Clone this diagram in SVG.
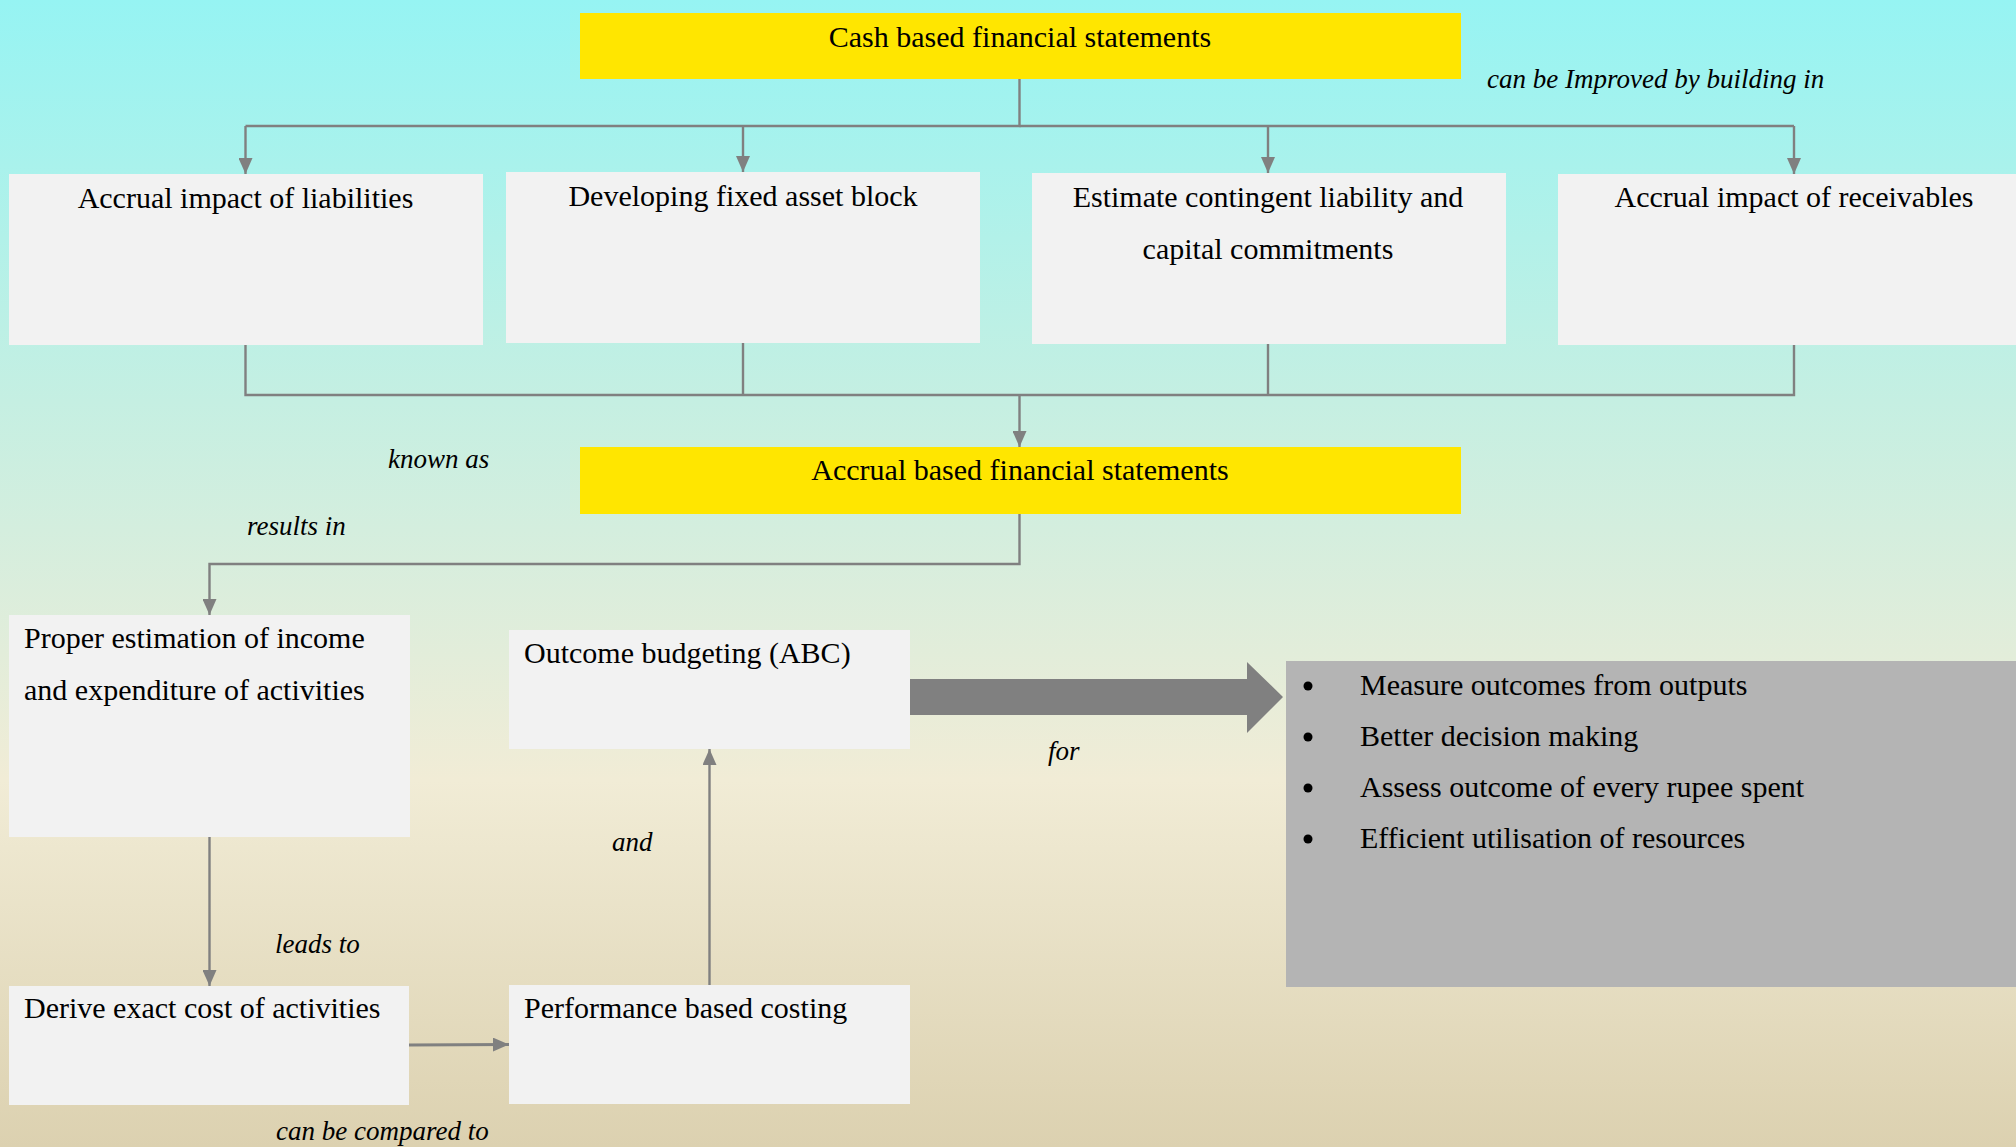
<svg xmlns="http://www.w3.org/2000/svg" width="2016" height="1147" viewBox="0 0 2016 1147">
<defs>
<linearGradient id="bg" x1="0" y1="0" x2="0" y2="1">
<stop offset="0" stop-color="#96F4F3"/>
<stop offset="0.35" stop-color="#C5EFE2"/>
<stop offset="0.68" stop-color="#F1ECD6"/>
<stop offset="1" stop-color="#DCD1B0"/>
</linearGradient>
<marker id="ah" markerUnits="userSpaceOnUse" markerWidth="16" markerHeight="14" refX="16" refY="7" orient="auto">
<path d="M0,0 L16,7 L0,14 z" fill="#808080"/>
</marker>
<style>
.box{fill:#F2F2F2}
.yel{fill:#FFE600}
.gry{fill:#B4B4B4}
.t{font-family:"Liberation Serif","Times New Roman",serif;font-size:30px;fill:#000}
.c{text-anchor:middle}
.i{font-family:"Liberation Serif","Times New Roman",serif;font-size:27px;font-style:italic;fill:#000}
.ln{fill:none;stroke:#808080;stroke-width:2.4}
.ar{marker-end:url(#ah)}
</style>
</defs>
<rect x="0" y="0" width="2016" height="1147" fill="url(#bg)"/>

<g id="connectors">
<polyline class="ln" points="1019.5,79 1019.5,126 245.5,126"/>
<polyline class="ln" points="1019.5,126 1794,126"/>
<line class="ln ar" x1="245.5" y1="126" x2="245.5" y2="174"/>
<line class="ln ar" x1="743" y1="126" x2="743" y2="172"/>
<line class="ln ar" x1="1268" y1="126" x2="1268" y2="173"/>
<line class="ln ar" x1="1794" y1="126" x2="1794" y2="174"/>
<polyline class="ln" points="245.5,345 245.5,395 1794,395 1794,345"/>
<line class="ln" x1="743" y1="343" x2="743" y2="395"/>
<line class="ln" x1="1268" y1="344" x2="1268" y2="395"/>
<line class="ln ar" x1="1019.5" y1="395" x2="1019.5" y2="447"/>
<polyline class="ln ar" points="1019.5,514 1019.5,564 209.5,564 209.5,615"/>
<line class="ln ar" x1="209.5" y1="837" x2="209.5" y2="986"/>
<line class="ln ar" x1="709.5" y1="985" x2="709.5" y2="749"/>
<line class="ln ar" x1="409" y1="1045" x2="509" y2="1044.5" style="stroke-width:3"/>
<polygon points="907,679 1247,679 1247,662 1283,697 1247,733 1247,715 907,715" fill="#808080"/>
</g>

<g id="n-cash">
<rect class="yel" x="580" y="13" width="881" height="66"/>
<text class="t c" x="1020" y="47">Cash based financial statements</text>
</g>
<g id="lbl-improved"><text class="i" x="1487" y="88">can be Improved by building in</text></g>

<g id="n-liab">
<rect class="box" x="9" y="174" width="474" height="171"/>
<text class="t c" x="245.5" y="208">Accrual impact of liabilities</text>
</g>
<g id="n-fixed">
<rect class="box" x="506" y="172" width="474" height="171"/>
<text class="t c" x="743" y="206">Developing fixed asset block</text>
</g>
<g id="n-contingent">
<rect class="box" x="1032" y="173" width="474" height="171"/>
<text class="t c" x="1268" y="207">Estimate contingent liability and</text>
<text class="t c" x="1268" y="259">capital commitments</text>
</g>
<g id="n-recv">
<rect class="box" x="1558" y="174" width="474" height="171"/>
<text class="t c" x="1794" y="207">Accrual impact of receivables</text>
</g>

<g id="lbl-known"><text class="i" x="388" y="468">known as</text></g>
<g id="n-accrual">
<rect class="yel" x="580" y="447" width="881" height="67"/>
<text class="t c" x="1020" y="480">Accrual based financial statements</text>
</g>
<g id="lbl-results"><text class="i" x="247" y="535">results in</text></g>

<g id="n-proper">
<rect class="box" x="9" y="615" width="401" height="222"/>
<text class="t" x="24" y="648">Proper estimation of income</text>
<text class="t" x="24" y="700">and expenditure of activities</text>
</g>
<g id="n-outcome">
<rect class="box" x="509" y="630" width="401" height="119"/>
<text class="t" x="524" y="663">Outcome budgeting (ABC)</text>
</g>
<g id="lbl-for"><text class="i" x="1048" y="760">for</text></g>
<g id="n-benefits">
<rect class="gry" x="1286" y="661" width="740" height="326"/>
<circle cx="1308" cy="686" r="4.5" fill="#000"/>
<circle cx="1308" cy="737" r="4.5" fill="#000"/>
<circle cx="1308" cy="788" r="4.5" fill="#000"/>
<circle cx="1308" cy="839" r="4.5" fill="#000"/>
<text class="t" x="1360" y="695">Measure outcomes from outputs</text>
<text class="t" x="1360" y="746">Better decision making</text>
<text class="t" x="1360" y="797">Assess outcome of every rupee spent</text>
<text class="t" x="1360" y="848">Efficient utilisation of resources</text>
</g>
<g id="lbl-and"><text class="i" x="612" y="851">and</text></g>
<g id="lbl-leads"><text class="i" x="275" y="953">leads to</text></g>

<g id="n-derive">
<rect class="box" x="9" y="986" width="400" height="119"/>
<text class="t" x="24" y="1018">Derive exact cost of activities</text>
</g>
<g id="n-perf">
<rect class="box" x="509" y="985" width="401" height="119"/>
<text class="t" x="524" y="1018">Performance based costing</text>
</g>
<g id="lbl-compared"><text class="i" x="276" y="1140">can be compared to</text></g>
</svg>
